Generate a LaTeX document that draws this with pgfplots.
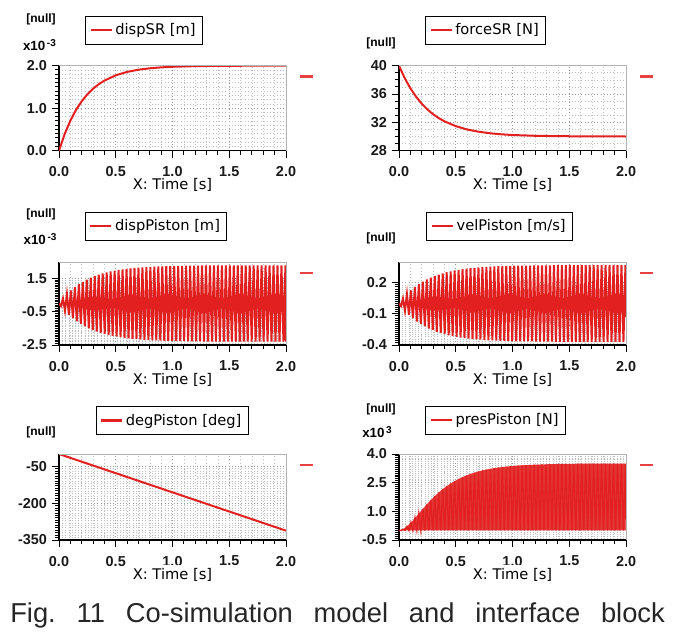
\documentclass[border=0pt]{standalone}
\usepackage{fontspec}
\setmainfont{Liberation Sans}
\newfontfamily\dv{DejaVu Sans}
\usepackage{pgfplots}
\usepackage{pgfplotstable}
\pgfplotsset{compat=1.18}
\definecolor{plotred}{RGB}{226,32,32}

% oscillating signals: peaks / troughs every half period
% d = dispPiston [1e-3 m], v = velPiston [m/s], p = presPiston [1e3 N]
\pgfplotstableread{
t d v p
0 0 0 0
0.0175 -0.155 -0.025 0
0.035 0.300 0.048 0.060
0.0525 -0.436 -0.070 0
0.07 0.562 0.090 0.209
0.0875 -0.679 -0.109 0
0.105 0.789 0.127 0.412
0.1225 -0.891 -0.143 0
0.14 0.986 0.159 0.644
0.1575 -1.075 -0.173 0
0.175 1.158 0.186 0.887
0.1925 -1.235 -0.199 0
0.21 1.307 0.210 1.130
0.2275 -1.374 -0.221 0
0.245 1.437 0.231 1.366
0.2625 -1.495 -0.241 0
0.28 1.550 0.249 1.589
0.2975 -1.600 -0.257 0
0.315 1.647 0.265 1.796
0.3325 -1.692 -0.272 0
0.35 1.733 0.279 1.987
0.3675 -1.771 -0.285 0
0.385 1.807 0.291 2.160
0.4025 -1.840 -0.296 0
0.42 1.871 0.301 2.317
0.4375 -1.900 -0.306 0
0.455 1.927 0.310 2.458
0.4725 -1.952 -0.314 0
0.49 1.976 0.318 2.583
0.5075 -1.998 -0.321 0
0.525 2.018 0.325 2.695
0.5425 -2.037 -0.328 0
0.56 2.055 0.331 2.794
0.5775 -2.072 -0.333 0
0.595 2.087 0.336 2.882
0.6125 -2.102 -0.338 0
0.63 2.115 0.340 2.959
0.6475 -2.128 -0.342 0
0.665 2.139 0.344 3.027
0.6825 -2.150 -0.346 0
0.70 2.160 0.348 3.087
0.7175 -2.170 -0.349 0
0.735 2.178 0.350 3.139
0.7525 -2.187 -0.352 0
0.77 2.194 0.353 3.185
0.7875 -2.201 -0.354 0
0.805 2.208 0.355 3.226
0.8225 -2.214 -0.356 0
0.84 2.220 0.357 3.261
0.8575 -2.225 -0.358 0
0.875 2.231 0.359 3.292
0.8925 -2.235 -0.360 0
0.91 2.240 0.360 3.318
0.9275 -2.244 -0.361 0
0.945 2.248 0.362 3.342
0.9625 -2.251 -0.362 0
0.98 2.254 0.363 3.363
0.9975 -2.257 -0.363 0
1.015 2.260 0.364 3.381
1.0325 -2.263 -0.364 0
1.05 2.266 0.364 3.396
1.0675 -2.268 -0.365 0
1.085 2.270 0.365 3.408
1.1025 -2.272 -0.365 0
1.12 2.274 0.366 3.420
1.1375 -2.276 -0.366 0
1.155 2.278 0.366 3.430
1.1725 -2.280 -0.366 0
1.19 2.282 0.367 3.440
1.2075 -2.284 -0.367 0
1.225 2.286 0.367 3.448
1.2425 -2.287 -0.367 0
1.26 2.288 0.368 3.455
1.2775 -2.289 -0.368 0
1.295 2.290 0.368 3.462
1.3125 -2.291 -0.368 0
1.33 2.292 0.368 3.468
1.3475 -2.293 -0.368 0
1.365 2.294 0.369 3.473
1.3825 -2.294 -0.369 0
1.40 2.295 0.369 3.477
1.4175 -2.295 -0.369 0
1.435 2.296 0.369 3.481
1.4525 -2.296 -0.369 0
1.47 2.297 0.369 3.484
1.4875 -2.297 -0.369 0
1.505 2.297 0.370 3.487
1.5225 -2.298 -0.370 0
1.54 2.298 0.370 3.489
1.5575 -2.298 -0.370 0
1.575 2.298 0.370 3.491
1.5925 -2.299 -0.370 0
1.61 2.299 0.370 3.493
1.6275 -2.299 -0.370 0
1.645 2.299 0.370 3.494
1.6625 -2.299 -0.370 0
1.68 2.299 0.370 3.495
1.6975 -2.300 -0.370 0
1.715 2.300 0.370 3.496
1.7325 -2.300 -0.370 0
1.75 2.300 0.370 3.497
1.7675 -2.300 -0.370 0
1.785 2.300 0.370 3.498
1.8025 -2.300 -0.370 0
1.82 2.300 0.370 3.498
1.8375 -2.300 -0.370 0
1.855 2.300 0.370 3.499
1.8725 -2.300 -0.370 0
1.89 2.300 0.370 3.499
1.9075 -2.300 -0.370 0
1.925 2.300 0.370 3.500
1.9425 -2.300 -0.370 0
1.96 2.300 0.370 3.500
1.9775 -2.300 -0.370 0
1.995 2.300 0.370 3.500
2.0 -2.300 -0.130 0
}\osc

\pgfplotsset{
  panel/.style={
    scale only axis, width=170.25pt, anchor=north west,
    xmin=0, xmax=2,
    axis x line*=bottom, axis y line*=left,
    axis line style={black, line width=0.9pt, -},
    tick align=outside,
    major tick length=5.5pt, minor tick length=3.2pt,
    tick style={black, line width=0.7pt},
    xtick={0,0.5,1,1.5,2},
    xticklabels={0.0,0.5,1.0,1.5,2.0},
    minor x tick num=4,
    grid=both,
    major grid style={black!40, dotted, line width=0.5pt},
    minor grid style={black!25, dotted, line width=0.4pt},
    ticklabel style={font=\fontsize{10.8}{12}\selectfont\bfseries, text=black!90},
    xticklabel style={yshift=-3pt},
    xlabel={X: Time [s]},
    xlabel style={font=\dv\fontsize{11}{13}\selectfont, at={(axis description cs:0.5,0)},
      anchor=center, yshift=-26pt, fill=white, inner xsep=1pt, inner ysep=2pt},
    legend style={draw=black, line width=0.5pt, font=\dv\fontsize{11}{13}\selectfont,
      anchor=center, inner xsep=3pt, inner ysep=3.5pt},
    legend cell align=left,
    legend image code/.code={\draw[plotred, line width=1.6pt] (0pt,0pt) -- (15.75pt,0pt);},
    after end axis/.code={
      \draw[black!30, line width=0.6pt] (rel axis cs:0,1) -- (rel axis cs:1,1) -- (rel axis cs:1,0);
      \draw[plotred!85, line width=1.8pt] ([xshift=10.5pt,yshift=-8.25pt]rel axis cs:1,1) -- ++(9.75pt,0pt);
    },
  },
}

\newcommand{\nulllab}{\fontsize{9}{10}\selectfont\bfseries [null]}

\begin{document}
\begin{tikzpicture}
\useasboundingbox (0,0) rectangle (504.75pt,-476.25pt);

% ---- dispSR
\begin{axis}[panel, at={(44.25pt,-49.25pt)}, height=63.75pt,
  ymin=0, ymax=2, ytick={0,1,2}, yticklabels={0.0,1.0,2.0}, minor y tick num=9,
  legend style={at={(axis description cs:0.374,1.418)}}]
\addplot[plotred, line width=1.5pt] coordinates {
  (0,0) (0.05,0.391) (0.1,0.706) (0.15,0.960) (0.2,1.162) (0.25,1.326)
  (0.3,1.458) (0.35,1.563) (0.4,1.649) (0.5,1.773) (0.6,1.853) (0.7,1.905)
  (0.8,1.938) (0.9,1.960) (1.0,1.974) (1.2,1.989) (1.4,1.996) (1.6,1.998) (2.0,2.0)};
\addlegendentry{dispSR [m]}
\end{axis}

% ---- forceSR
\begin{axis}[panel, at={(299.25pt,-49.25pt)}, height=63.75pt,
  ymin=28, ymax=40, ytick={28,32,36,40}, yticklabels={28,32,36,40}, minor y tick num=3,
  legend style={at={(axis description cs:0.381,1.418)}}]
\addplot[plotred, line width=1.5pt] coordinates {
  (0,40) (0.05,38.25) (0.1,36.81) (0.15,35.62) (0.2,34.63) (0.25,33.82)
  (0.3,33.15) (0.35,32.60) (0.4,32.15) (0.5,31.46) (0.6,30.99) (0.7,30.68)
  (0.8,30.46) (0.9,30.31) (1.0,30.21) (1.2,30.10) (1.4,30.05) (1.6,30.02) (2.0,30.0)};
\addlegendentry{forceSR [N]}
\end{axis}

% ---- dispPiston
\begin{axis}[panel, at={(44.25pt,-196.5pt)}, height=62.25pt,
  ymin=-2.5, ymax=2.5, ytick={-2.5,-0.5,1.5}, yticklabels={-2.5,-0.5,1.5}, minor y tick num=19,
  legend style={at={(axis description cs:0.427,1.434)}}]
\addplot[plotred, line width=1.5pt] table[x=t, y=d] {\osc};
\addlegendentry{dispPiston [m]}
\end{axis}

% ---- velPiston
\begin{axis}[panel, at={(299.25pt,-196.5pt)}, height=62.25pt,
  ymin=-0.4, ymax=0.4, ytick={-0.4,-0.1,0.2}, yticklabels={-0.4,-0.1,0.2}, minor y tick num=14,
  legend style={at={(axis description cs:0.443,1.434)}}]
\addplot[plotred, line width=1.5pt] table[x=t, y=v] {\osc};
\addlegendentry{velPiston [m/s]}
\end{axis}

% ---- degPiston
\begin{axis}[panel, at={(44.25pt,-340.5pt)}, height=64.5pt,
  ymin=-350, ymax=0, ytick={-350,-200,-50}, yticklabels={-350,-200,-50}, minor y tick num=14,
  legend style={at={(axis description cs:0.498,1.390)}}]
\addplot[plotred, line width=1.5pt] coordinates {(0,0) (2,-312)};
\addlegendentry{degPiston [deg]}
\end{axis}

% ---- presPiston
\begin{axis}[panel, at={(299.25pt,-340.5pt)}, height=64.5pt,
  ymin=-0.5, ymax=4, ytick={-0.5,1,2.5,4}, yticklabels={-0.5,1.0,2.5,4.0}, minor y tick num=14,
  legend style={at={(axis description cs:0.425,1.395)}}]
\addplot[fill=plotred!90, draw=none, forget plot, each nth point=2, filter discard warning=false]
  table[x=t, y=p] {\osc} \closedcycle;
\addplot[plotred, line width=1pt] table[x=t, y=p] {\osc};
\addlegendentry{presPiston [N]}
\end{axis}

% ---- unit labels
\node at (30.75pt,-14.25pt) {\nulllab};
\node at (29.6pt,-33.75pt) {\fontsize{10}{12}\selectfont\bfseries x10\raisebox{0.55ex}{\fontsize{7.5}{8}\selectfont\,-3}};
\node at (285.75pt,-32.25pt) {\nulllab};
\node at (30.75pt,-160.5pt) {\nulllab};
\node at (30pt,-179.25pt) {\fontsize{10}{12}\selectfont\bfseries x10\raisebox{0.55ex}{\fontsize{7.5}{8}\selectfont\,-3}};
\node at (285.75pt,-178.5pt) {\nulllab};
\node at (30.75pt,-324pt) {\nulllab};
\node at (285.75pt,-306.75pt) {\nulllab};
\node at (282.75pt,-324pt) {\fontsize{10}{12}\selectfont\bfseries x10\raisebox{0.55ex}{\fontsize{7.5}{8}\selectfont\,3}};

% ---- caption
\node[anchor=base west, inner sep=0pt, text=black!85] at (7.5pt,-466.5pt)
  {\fontsize{20.5}{23}\selectfont\frenchspacing\makebox[491pt][s]{Fig. 11 Co-simulation model and interface block}};
\end{tikzpicture}
\end{document}
